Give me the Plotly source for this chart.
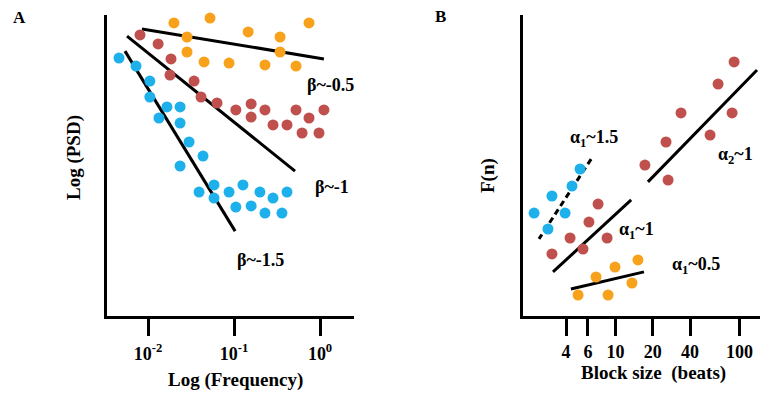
import plotly.graph_objects as go

W, H = 760, 397

# ---------------- Panel A: PSD vs frequency (arbitrary log-PSD units) ----------------
a_orange_freq = [0.0127, 0.0200, 0.0526, 0.745, 0.146, 0.343, 0.0284, 0.0284, 0.343, 0.0448, 0.0875, 0.229, 0.526]
a_orange_psd = [10.07, 9.77, 9.93, 9.77, 9.47, 9.30, 9.30, 8.80, 8.80, 8.47, 8.43, 8.37, 8.33]

a_red_freq = [0.00807, 0.0131, 0.0185, 0.0180, 0.0343, 0.0413, 0.0634, 0.105, 0.158, 0.158,
              0.229, 0.284, 0.413, 0.526, 0.745, 1.11, 0.618, 0.973]
a_red_psd = [9.37, 9.07, 8.57, 8.03, 7.83, 7.30, 7.10, 6.87, 7.07, 6.63,
             6.87, 6.37, 6.37, 6.87, 6.60, 6.87, 6.10, 6.10]

a_blue_freq = [0.0046, 0.00725, 0.0105, 0.0105, 0.0166, 0.0236, 0.0134, 0.0236, 0.0300, 0.0436,
               0.0236, 0.0392, 0.0585, 0.0585, 0.0875, 0.127, 0.200, 0.284, 0.413, 0.105,
               0.158, 0.229, 0.361]
a_blue_psd = [8.60, 8.33, 7.83, 7.30, 6.97, 6.97, 6.60, 6.43, 5.80, 5.33,
              5.00, 4.13, 4.37, 3.93, 4.13, 4.37, 4.13, 3.93, 4.13, 3.63,
              3.67, 3.43, 3.43]

a_fit_orange_freq = [0.0085, 1.11]
a_fit_orange_psd = [9.57, 8.57]
a_fit_red_freq = [0.0057, 0.512]
a_fit_red_psd = [9.33, 4.83]
a_fit_blue_freq = [0.0054, 0.103]
a_fit_blue_psd = [8.83, 2.83]

a_tick_vals = [0.01, 0.1, 1]
a_tick_text = ["10<sup>-2</sup>", "10<sup>-1</sup>", "10<sup>0</sup>"]

# ---------------- Panel B: F(n) vs block size (arbitrary units) ----------------
b_red_hi_n = [90.6, 67.3, 33.8, 87.3, 58.0, 25.6, 17.3, 26.6]
b_red_hi_f = [8.47, 7.73, 6.77, 6.77, 6.03, 5.80, 5.03, 4.53]

b_blue_n = [5.19, 4.47, 3.08, 2.21, 3.93, 2.86]
b_blue_f = [4.90, 4.33, 4.00, 3.43, 3.43, 2.90]

b_red_lo_n = [7.25, 6.12, 4.31, 8.57, 3.08, 5.48]
b_red_lo_f = [3.73, 3.13, 2.60, 2.60, 2.07, 2.23]

b_orange_n = [15.2, 9.93, 6.98, 13.6, 5.00, 8.73]
b_orange_f = [1.87, 1.63, 1.30, 1.10, 0.70, 0.70]

b_fit_red_hi_n = [18.3, 138.7]
b_fit_red_hi_f = [4.47, 8.20]
b_fit_blue_n = [6.37, 2.42]
b_fit_blue_f = [5.23, 2.57]
b_fit_red_lo_n = [3.14, 13.4]
b_fit_red_lo_f = [1.47, 3.87]
b_fit_orange_n = [4.38, 17.0]
b_fit_orange_f = [0.90, 1.47]

b_tick_vals = [4, 6, 10, 20, 40, 100]
b_tick_text = ["4", "6", "10", "20", "40", "100"]

ORANGE = "#F8A21C"
RED = "#C0504D"
BLUE = "#1EB0EA"
SERIF = "Liberation Serif, Times New Roman, serif"

fig = go.Figure()


def line(x, y, xa, ya, dash="solid"):
    fig.add_trace(go.Scatter(x=x, y=y, mode="lines", xaxis=xa, yaxis=ya,
                             line=dict(color="black", width=3, dash=dash),
                             hoverinfo="skip", showlegend=False, cliponaxis=False))


def dots(x, y, color, xa, ya):
    fig.add_trace(go.Scatter(x=x, y=y, mode="markers", xaxis=xa, yaxis=ya,
                             marker=dict(color=color, size=11, line=dict(width=0)),
                             showlegend=False, cliponaxis=False))


# Panel A
line(a_fit_orange_freq, a_fit_orange_psd, "x", "y")
line(a_fit_red_freq, a_fit_red_psd, "x", "y")
line(a_fit_blue_freq, a_fit_blue_psd, "x", "y")
dots(a_orange_freq, a_orange_psd, ORANGE, "x", "y")
dots(a_red_freq, a_red_psd, RED, "x", "y")
dots(a_blue_freq, a_blue_psd, BLUE, "x", "y")

# Panel B
line(b_fit_red_hi_n, b_fit_red_hi_f, "x2", "y2")
line(b_fit_blue_n, b_fit_blue_f, "x2", "y2", dash="6px,4px")
line(b_fit_red_lo_n, b_fit_red_lo_f, "x2", "y2")
line(b_fit_orange_n, b_fit_orange_f, "x2", "y2")
dots(b_red_hi_n, b_red_hi_f, RED, "x2", "y2")
dots(b_blue_n, b_blue_f, BLUE, "x2", "y2")
dots(b_red_lo_n, b_red_lo_f, RED, "x2", "y2")
dots(b_orange_n, b_orange_f, ORANGE, "x2", "y2")

y_dom = [(H - 316) / H, (H - 15) / H]
tickfont = dict(family=SERIF, size=18, color="black", weight="bold")

common_x = dict(showgrid=False, zeroline=False, showline=True, linecolor="black", linewidth=3,
                ticks="outside", ticklen=17, tickwidth=3, tickcolor="black", tickfont=tickfont,
                automargin=False)
common_y = dict(showgrid=False, zeroline=False, showline=True, linecolor="black", linewidth=3,
                ticks="", showticklabels=False, range=[0, 301 / 30], automargin=False)

fig.update_layout(
    width=W, height=H,
    margin=dict(l=0, r=0, t=0, b=0, pad=0, autoexpand=False),
    paper_bgcolor="white", plot_bgcolor="white",
    xaxis=dict(common_x, type="log", domain=[107 / W, 354 / W], range=[-2.477, 0.395],
               tickvals=a_tick_vals, ticktext=a_tick_text, anchor="y", ticklabelstandoff=2),
    yaxis=dict(common_y, domain=y_dom, anchor="x"),
    xaxis2=dict(common_x, type="log", domain=[523 / W, 1.0], range=[0.255, 2.166],
                tickvals=b_tick_vals, ticktext=b_tick_text, anchor="y2"),
    yaxis2=dict(common_y, domain=y_dom, anchor="x2"),
)


def label(text, px, py, size=18, angle=0):
    fig.add_annotation(text=text, x=px / W, y=1 - py / H, xref="paper", yref="paper",
                       xanchor="center", yanchor="middle", showarrow=False, textangle=angle,
                       font=dict(family=SERIF, size=size, color="black", weight="bold"))


label("A", 19, 17, 17)
label("B", 440, 16, 17)
label("Log (PSD)", 74, 158, 19, -90)
label("Log (Frequency)", 235, 380, 19)
label("F(n)", 488, 176, 19, -90)
label("Block size  (beats)", 653, 373, 19)
label("β~-0.5", 330, 85)
label("β~-1", 332, 187)
label("β~-1.5", 260, 260)
label("α<sub>1</sub>~1.5", 594, 138)
label("α<sub>2</sub>~1", 735, 155)
label("α<sub>1</sub>~1", 636, 230)
label("α<sub>1</sub>~0.5", 696, 265)

fig.write_html("out.html", config={"displayModeBar": False},
               post_script="document.body.style.margin='0';")
